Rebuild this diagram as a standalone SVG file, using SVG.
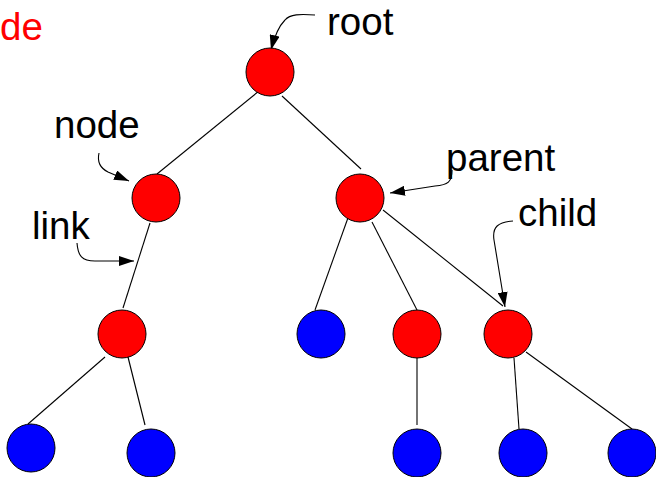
<svg xmlns="http://www.w3.org/2000/svg" width="656" height="477" viewBox="0 0 656 477">
<style>
.red{fill:#ff0000;stroke:#000;stroke-width:1}
.blue{fill:#0000ff;stroke:#000;stroke-width:1}
.edge{stroke:#000;stroke-width:1.1;fill:none}
.ptr{stroke:#000;stroke-width:1.1;fill:none;marker-end:url(#ah)}
.lbl{font-family:"Liberation Sans",Arial,sans-serif;font-size:38.5px;fill:#000}
</style>
<defs>
<marker id="ah" markerUnits="userSpaceOnUse" markerWidth="16" markerHeight="10" refX="15" refY="5" orient="auto">
<path d="M0,0 L15,5 L0,10 Z" fill="#000"/>
</marker>
</defs>
<rect width="656" height="477" fill="#fff"/>
<g id="connectors">
<line class="edge" x1="259" y1="91" x2="157" y2="174"/>
<line class="edge" x1="282" y1="96" x2="361" y2="169"/>
<line class="edge" x1="150" y1="223" x2="123" y2="308"/>
<line class="edge" x1="349" y1="215" x2="315" y2="310"/>
<line class="edge" x1="372" y1="222" x2="417" y2="310"/>
<line class="edge" x1="383" y1="210" x2="503" y2="306"/>
<line class="edge" x1="105" y1="357" x2="28" y2="424"/>
<line class="edge" x1="128" y1="357" x2="145" y2="425"/>
<line class="edge" x1="417" y1="358" x2="417" y2="425"/>
<line class="edge" x1="514" y1="358" x2="519" y2="429"/>
<line class="edge" x1="526" y1="352" x2="632" y2="429"/>
</g>
<g id="pointers">
<path class="ptr" d="M315,15 C300,14 290,14 285,20 C278,27 274,38 271,50"/>
<path class="ptr" d="M99,153 C97,162 100,168 108,172 L129,181"/>
<path class="ptr" d="M77,243 C78,256 82,261 95,261 L134,261"/>
<path class="ptr" d="M452,170 C452,182 448,185 435,186 L390,193"/>
<path class="ptr" d="M513,221 C498,222 492,227 494,240 L505,307"/>
</g>
<g id="root"><circle class="red" cx="270" cy="72" r="24"/></g>
<g id="n1"><circle class="red" cx="156" cy="198" r="24"/></g>
<g id="n2"><circle class="red" cx="360" cy="198" r="24"/></g>
<g id="n3"><circle class="red" cx="122" cy="334" r="24"/></g>
<g id="n4"><circle class="blue" cx="321" cy="334" r="24"/></g>
<g id="n5"><circle class="red" cx="417" cy="334" r="24"/></g>
<g id="n6"><circle class="red" cx="508" cy="334" r="24"/></g>
<g id="n7"><circle class="blue" cx="31" cy="448" r="24"/></g>
<g id="n8"><circle class="blue" cx="151" cy="453" r="24"/></g>
<g id="n9"><circle class="blue" cx="417" cy="453" r="24"/></g>
<g id="n10"><circle class="blue" cx="523" cy="453" r="24"/></g>
<g id="n11"><circle class="blue" cx="632" cy="453" r="24"/></g>
<g id="labels">
<text class="lbl" x="0" y="40" style="fill:#ff0000">de</text>
<text class="lbl" x="327" y="35">root</text>
<text class="lbl" x="54" y="138">node</text>
<text class="lbl" x="32" y="239">link</text>
<text class="lbl" x="446" y="171">parent</text>
<text class="lbl" x="518" y="226">child</text>
</g>
</svg>
